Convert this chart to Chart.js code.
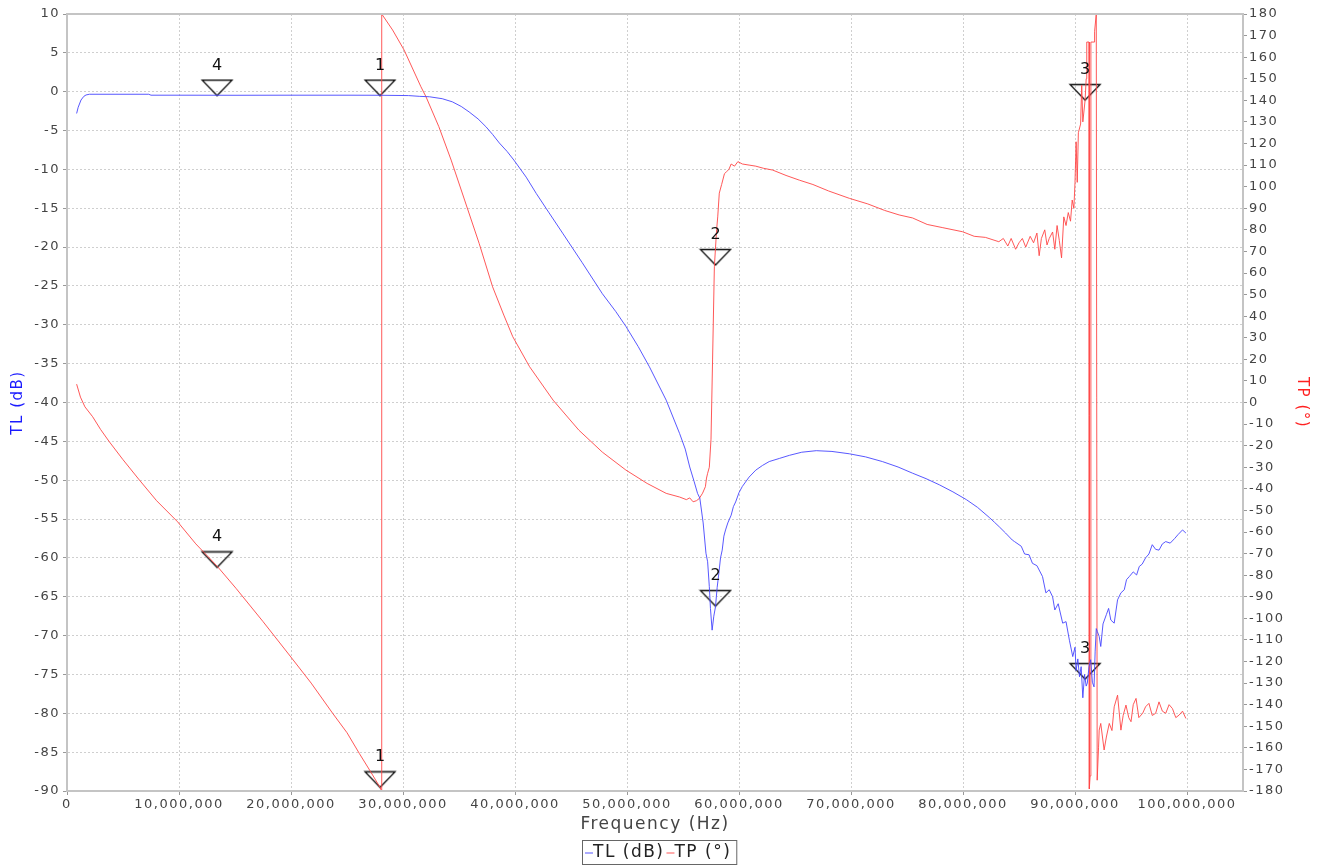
<!DOCTYPE html>
<html>
<head>
<meta charset="utf-8">
<script src="https://cdn.jsdelivr.net/npm/chart.js@4.4.0/dist/chart.umd.min.js"></script>
<style>
  html, body { margin: 0; padding: 0; background: #fff; }
</style>
</head>
<body>
<canvas id="chart" width="1323" height="866"></canvas>
<script>
/* Data - frequencies in MHz */

const tlFreqMHz = [
  0.86, 1.0, 1.25, 1.5, 1.7, 2.0, 5, 7.3, 7.5, 10, 15, 20, 25, 28, 30.5, 31.5, 32.35, 33.5, 34.4, 35.2,
  35.9, 36.7, 37.4, 38.0, 38.6, 39.3, 39.9, 41.0, 41.9, 43.0, 44.25, 46.0, 47.8, 49.0, 49.9, 51.0, 52.0,
  53.5, 54.7, 55.2, 55.6, 56.0, 56.3, 56.5, 56.8, 57.05, 57.2, 57.35, 57.45, 57.6, 57.75, 57.9, 58.05,
  58.2, 58.35, 58.5, 58.65, 58.8, 59.0, 59.3, 59.5, 59.7, 60.0, 60.3, 60.9, 61.5, 62.1, 62.7, 63.6, 64.5,
  65.6, 66.9, 68.3, 69.85, 71.3, 72.8, 74.2, 75.5, 76.7, 77.9, 79.1, 80.3, 81.3, 82.35, 82.8, 83.24,
  83.8, 84.4, 84.6, 85.2, 85.5, 85.9, 86.2, 86.6, 87.1, 87.4, 87.7, 88.0, 88.2, 88.5, 88.9, 89.2, 89.5,
  89.8, 90.0, 90.1, 90.25, 90.4, 90.55, 90.7, 90.85, 91.0, 91.1, 91.25, 91.4, 91.55, 91.7, 91.8, 91.9,
  92.0, 92.16, 92.3, 92.5, 92.8, 93.0, 93.2, 93.5, 93.8, 94.1, 94.4, 94.6, 94.85, 95.2, 95.5, 95.74,
  96.0, 96.3, 96.6, 96.9, 97.2, 97.5, 97.8, 98.1, 98.5, 98.9, 99.2, 99.6, 99.9
];
const tlDb = [
  -2.8, -2.0, -1.07, -0.6, -0.42, -0.33, -0.33, -0.33, -0.45, -0.45, -0.46, -0.45, -0.45, -0.46, -0.5, -0.6, -0.65, -0.9, -1.3, -1.9,
  -2.6, -3.5, -4.5, -5.5, -6.6, -7.7, -8.8, -11.0, -13.1, -15.5, -18.2, -22.0, -26.0, -28.3, -30.2, -32.8, -35.4,
  -39.7, -44.0, -46.0, -48.3, -50.2, -51.7, -52.3, -55.5, -59.4, -60.5, -63.7, -66.5, -69.3, -67.5, -66.3, -63.8,
  -62.0, -60.0, -59.0, -57.2, -56.4, -55.5, -54.5, -53.4, -52.8, -51.6, -50.8, -49.6, -48.7, -48.1, -47.6, -47.2, -46.8,
  -46.4, -46.2, -46.3, -46.6, -47.0, -47.6, -48.3, -49.1, -49.8, -50.6, -51.5, -52.5, -53.5, -54.8, -55.4, -56.0,
  -56.8, -57.7, -57.9, -58.5, -59.5, -59.6, -60.7, -61.0, -62.4, -64.5, -64.1, -65.0, -66.7, -65.9, -68.4, -68.2, -70.6,
  -72.7, -71.5, -74.5, -73.0, -75.3, -74.0, -78.0, -75.0, -76.5, -76.1, -74.0, -73.1, -76.0, -76.6, -72.0, -69.1,
  -69.5, -70.1, -71.4, -68.5, -67.3, -66.5, -68.0, -68.4, -65.4, -64.5, -64.1, -62.8, -62.4, -61.8, -62.2, -61.1,
  -60.8, -60.0, -59.5, -58.3, -58.9, -59.0, -58.2, -57.9, -58.1, -57.5, -57.0, -56.4, -56.8
];

const tpFreqMHz = [
  0.86, 1.2, 1.6, 2.29, 3.0, 3.78, 5.0, 6.46, 8.0, 9.88, 11.5, 13.45, 15.09, 17.5, 19.85, 21.8, 23.72, 25.0,
  26.1, 27.1, 27.95, 28.08, 28.1, 29.07, 30.1, 31.6, 32.05, 33.2, 34.3, 35.5, 36.8, 38.0, 39.0, 39.8, 41.3,
  43.4, 45.7, 47.8, 49.9, 51.8, 53.5, 54.7, 55.3, 55.6, 55.9, 56.2, 56.45, 56.75, 57.0, 57.1, 57.2, 57.35,
  57.5, 57.64, 57.8, 58.0, 58.1, 58.24, 58.45, 58.7, 58.9, 59.1, 59.3, 59.6, 59.9, 60.3, 60.9, 61.5, 62.2,
  63.0, 64.2, 65.4, 66.6, 68.0, 69.85, 71.5, 73.0, 74.3, 75.5, 76.8, 78.2, 79.97, 81.0, 82.0, 83.2, 83.6,
  84.0, 84.3, 84.7, 85.0, 85.3, 85.6, 86.0, 86.3, 86.6, 86.8, 87.0, 87.3, 87.5, 87.7, 88.0, 88.2, 88.4,
  88.6, 88.8, 89.0, 89.2, 89.4, 89.6, 89.75, 89.9, 90.0, 90.1, 90.2, 90.3, 90.5, 90.6, 90.7, 90.9, 91.0,
  91.05, 91.25, 91.28, 91.35, 91.42, 91.7, 91.75, 91.9, 91.98, 92.1, 92.16, 92.3, 92.6, 92.8, 93.06, 93.3,
  93.5, 93.8, 94.1, 94.3, 94.55, 94.8, 95.0, 95.2, 95.45, 95.7, 96.04, 96.3, 96.6, 96.9, 97.2, 97.5, 97.8,
  98.1, 98.4, 98.7, 99.0, 99.3, 99.6, 99.9
];
const tpDeg = [
  8.5, 2.5, -2.0, -6.6, -12.5, -18.2, -26.5, -35.9, -45.5, -55.3, -65.5, -76.1, -86.1, -101.5, -117, -130, -144, -153,
  -162.6, -171, -178.3, -180, 180, 172.6, 163.3, 146.3, 141.7, 127.8, 112.3, 93.8, 73.7, 53.6, 40.5, 30.5, 16.6,
  1.1, -12.8, -23, -31.3, -37.5, -42.1, -43.8, -45, -44.2, -46, -45.5, -44.5, -42, -39, -35, -32.8, -30,
  -17, 19.7, 62.9, 80, 86, 97, 101, 106, 107, 108, 110.5, 109.5, 111.6, 110.5, 110, 109.5, 108.5,
  107.7, 105.2, 103, 101, 98, 94.6, 92, 89, 86.9, 85.5, 82.5, 81, 79.1, 77, 76.5, 74.5, 76,
  72.5, 76, 71, 74, 76, 72, 77, 74, 78.5, 68, 76, 80, 73, 76, 79, 71, 82,
  75, 67, 86, 82, 88, 84, 93.8, 90, 102, 120.8, 102, 125, 129, 147, 130, 140, 150,
  167, 167, -179, -173, 167, 167, 172, 180, -175, -160, -151.8, -148.7, -161, -155, -148.7, -152,
  -141, -135.6, -151.8, -145, -140.2, -146, -147.9, -140, -137.1, -146, -144, -141, -139.4, -145, -144, -138.7, -143,
  -144, -140, -141.8, -146, -144.8, -143, -146.4
];

const markerLabels = ['1', '2', '3', '4'];
const markerFreqMHz = [27.95, 57.9, 90.9, 13.4];
const markerTl = [-0.5, -66.2, -75.6, -0.5];
const markerTp = [-178.3, 63.7, 140.1, -76.4];

// x axis tick positions (Hz)
const freqTicks = [0, 10000000, 20000000, 30000000, 40000000, 50000000, 60000000, 70000000, 80000000, 90000000, 100000000];

const seriesNames = ['TL (dB)', 'TP (°)'];
const tlColor = 'rgba(70, 70, 255, 0.9)';
const tpColor = 'rgba(255, 70, 70, 0.9)';

const toPoints = (fs, vs) => fs.map((f, i) => ({ x: f * 1e6, y: vs[i] }));

/* Marker - open triangle, tip at the centre of the image */
const tri = document.createElement('canvas');
tri.width = 34;
tri.height = 34;
const tc = tri.getContext('2d');
tc.strokeStyle = '#111';
tc.lineWidth = 1.3;
tc.beginPath();
tc.moveTo(2, 1.5);
tc.lineTo(32, 1.5);
tc.lineTo(17, 17);
tc.closePath();
tc.stroke();

const FONT = 'DejaVu Sans';

const spacingPlugin = {
  id: 'spacing',
  beforeLayout(chart) { chart.ctx.letterSpacing = '1.5px'; },
  beforeDraw(chart) { chart.ctx.letterSpacing = '1.5px'; }
};

const extrasPlugin = {
  id: 'extras',
  afterDatasetsDraw(chart) {
    const ctx = chart.ctx;
    ctx.save();
    ctx.letterSpacing = '0px';
    ctx.fillStyle = '#111';
    ctx.font = '16px "' + FONT + '"';
    ctx.textAlign = 'center';
    ctx.textBaseline = 'alphabetic';
    chart.data.datasets.forEach((ds, di) => {
      if (!ds.isMarker) return;
      chart.getDatasetMeta(di).data.forEach((pt, i) => {
        ctx.fillText(markerLabels[i], pt.x, pt.y - 26);
      });
    });
    ctx.restore();
  },
  afterDraw(chart) {
    const ctx = chart.ctx;
    const a = chart.chartArea;
    ctx.save();
    // plot frame
    ctx.strokeStyle = '#c4c4c4';
    ctx.lineWidth = 2;
    ctx.strokeRect(a.left, a.top, a.right - a.left, a.bottom - a.top);

    // legend
    ctx.letterSpacing = '1.5px';
    ctx.font = '17px "' + FONT + '"';
    ctx.textBaseline = 'middle';
    ctx.textAlign = 'left';
    const cols = [tlColor, tpColor];
    const seg = 8;
    let total = 6;
    seriesNames.forEach(n => { total += seg + ctx.measureText(n).width + 2; });
    const bx = Math.round(chart.width / 2 - total / 2) - 2;
    const by = 840;
    const bh = 24;
    ctx.strokeStyle = '#666';
    ctx.lineWidth = 1;
    ctx.strokeRect(bx + 0.5, by + 0.5, total, bh);
    let x = bx + 3;
    const cy = by + bh / 2 + 1;
    seriesNames.forEach((n, i) => {
      ctx.strokeStyle = cols[i];
      ctx.beginPath();
      ctx.moveTo(x, cy);
      ctx.lineTo(x + seg, cy);
      ctx.stroke();
      x += seg;
      ctx.fillStyle = '#222';
      ctx.fillText(n, x, cy);
      x += ctx.measureText(n).width + 2;
    });
    ctx.restore();
  }
};

const gridStyle = { color: '#cfcfcf', lineWidth: 1, tickLength: 4, tickColor: '#999' };
const borderStyle = { color: '#bbbbbb', dash: [2, 2] };
const tickFont = { family: FONT, size: 13 };

new Chart(document.getElementById('chart'), {
  type: 'line',
  data: {
    datasets: [
      {
        label: seriesNames[0],
        data: toPoints(tlFreqMHz, tlDb),
        yAxisID: 'yTL',
        borderColor: tlColor,
        backgroundColor: tlColor,
        borderWidth: 1,
        pointRadius: 0,
        tension: 0
      },
      {
        label: seriesNames[1],
        data: toPoints(tpFreqMHz, tpDeg),
        yAxisID: 'yTP',
        borderColor: tpColor,
        backgroundColor: tpColor,
        borderWidth: 1,
        pointRadius: 0,
        tension: 0
      },
      {
        label: 'TL markers',
        isMarker: true,
        type: 'scatter',
        data: toPoints(markerFreqMHz, markerTl),
        yAxisID: 'yTL',
        pointStyle: tri,
        showLine: false
      },
      {
        label: 'TP markers',
        isMarker: true,
        type: 'scatter',
        data: toPoints(markerFreqMHz, markerTp),
        yAxisID: 'yTP',
        pointStyle: tri,
        showLine: false
      }
    ]
  },
  options: {
    responsive: false,
    animation: false,
    layout: { padding: { top: 14, right: 0, bottom: 26, left: 0 } },
    plugins: {
      legend: { display: false },
      tooltip: { enabled: false }
    },
    scales: {
      x: {
        type: 'linear',
        position: 'bottom',
        min: 0,
        max: 105000000,
        afterFit: (s) => { s.height = 49; },
        afterBuildTicks: (s) => { s.ticks = freqTicks.map(v => ({ value: v })); },
        ticks: {
          autoSkip: false,
          maxRotation: 0,
          padding: 2,
          color: '#444',
          font: tickFont,
          callback: (v) => Number(v).toLocaleString('en-US')
        },
        grid: gridStyle,
        border: borderStyle,
        title: {
          display: true,
          text: 'Frequency (Hz)',
          color: '#444',
          font: { family: FONT, size: 17 },
          padding: { top: 0, bottom: 5 }
        }
      },
      yTL: {
        type: 'linear',
        position: 'left',
        min: -90,
        max: 10,
        afterFit: (s) => { s.width = 67; },
        ticks: { stepSize: 5, maxTicksLimit: 40, autoSkip: false, padding: 3, color: '#444', font: tickFont },
        grid: gridStyle,
        border: borderStyle,
        title: {
          display: true,
          text: 'TL (dB)',
          color: '#1a1aff',
          font: { family: FONT, size: 15 },
          padding: { top: 9, bottom: 0 }
        }
      },
      yTP: {
        type: 'linear',
        position: 'right',
        min: -180,
        max: 180,
        afterFit: (s) => { s.width = 80; },
        ticks: { stepSize: 10, maxTicksLimit: 40, autoSkip: false, padding: 2, color: '#444', font: tickFont },
        grid: { drawOnChartArea: false, tickLength: 4, tickColor: '#999' },
        border: { color: '#bbbbbb' },
        title: {
          display: true,
          text: 'TP (°)',
          color: '#ff2020',
          font: { family: FONT, size: 15 },
          padding: { top: 12, bottom: 0 }
        }
      }
    }
  },
  plugins: [spacingPlugin, extrasPlugin]
});
</script>
</body>
</html>
